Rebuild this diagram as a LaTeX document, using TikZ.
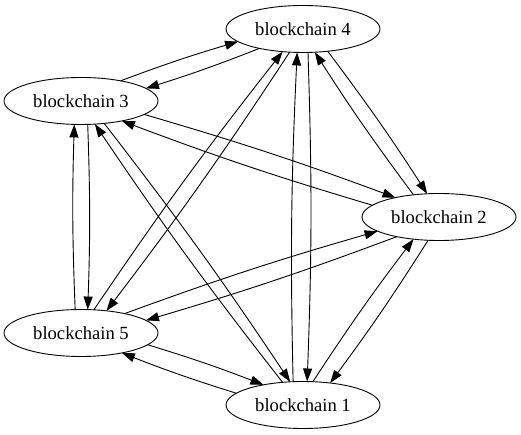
\documentclass[tikz,border=0pt]{standalone}
\usepackage{fontspec}
\setmainfont{Liberation Serif}
\usetikzlibrary{arrows.meta}
\usetikzlibrary{shapes.geometric}

\begin{document}
\begin{tikzpicture}[x=1pt, y=1pt
    , >={Triangle[length=13pt, width=9pt]}
    , chain/.style={ draw, ellipse
                   , minimum width = 154pt
                   , minimum height = 47pt
                   , inner sep = 0pt
                   , outer sep = 0pt
                   , line width = 0.9pt
                   , font=\fontsize{18.6}{22}\selectfont
                   }
    , link/.style={->, line width=0.9pt, bend left=2}]

  \useasboundingbox (0,0) rectangle (521,435);

  \node [chain] (bc4) at (303,406) {blockchain 4};
  \node [chain] (bc3) at (81,334) {blockchain 3};
  \node [chain] (bc2) at (439,218) {blockchain 2};
  \node [chain] (bc5) at (81,102) {blockchain 5};
  \node [chain] (bc1) at (303,30) {blockchain 1};

  \draw [link] (bc3.27) to (bc4.191);
  \draw [link] (bc4.204) to (bc3.11);

  \draw [link] (bc4.318) to (bc2.117);
  \draw [link] (bc2.139) to (bc4.297);

  \draw [link] (bc1.113) to (bc4.256);
  \draw [link] (bc4.282) to (bc1.80);

  \draw [link] (bc5.61) to (bc4.228);
  \draw [link] (bc4.240) to (bc5.41);

  \draw [link] (bc3.-12) to (bc2.156);
  \draw [link] (bc2.170) to (bc3.-26);

  \draw [link] (bc5.104) to (bc3.-106);
  \draw [link] (bc3.-74) to (bc5.74);

  \draw [link] (bc1.132) to (bc3.-59);
  \draw [link] (bc3.-44) to (bc1.119);

  \draw [link] (bc5.24) to (bc2.193);
  \draw [link] (bc2.205) to (bc5.11);

  \draw [link] (bc1.67) to (bc2.221);
  \draw [link] (bc2.245) to (bc1.39);

  \draw [link] (bc5.-10) to (bc1.153);
  \draw [link] (bc1.170) to (bc5.-26);

\end{tikzpicture}
\end{document}
